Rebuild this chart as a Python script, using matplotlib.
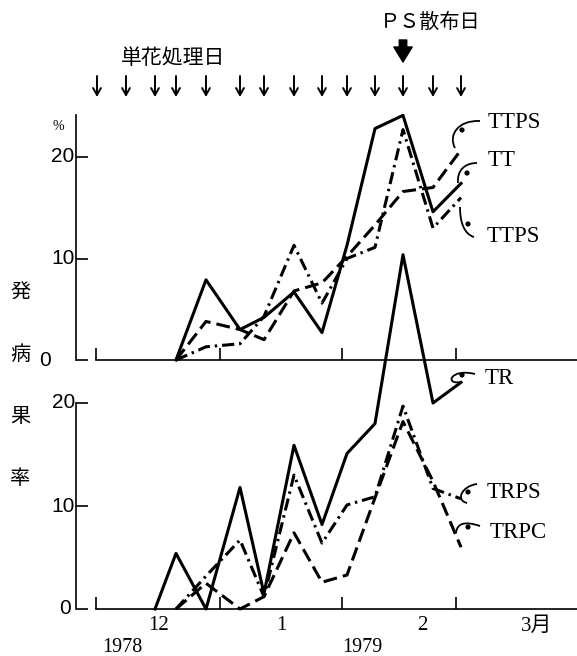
import numpy as np
import matplotlib
matplotlib.use('Agg')
import matplotlib.pyplot as plt
from matplotlib import transforms
from matplotlib.path import Path
from matplotlib.patches import PathPatch, Circle

nan = np.nan

# ---------------- data ----------------
sample_days = [0.25, 7.5, 14.75, 20, 27.5, 36, 42, 49.5, 56.5, 62.75, 69.75, 76.75, 84.25, 91.25]
ps_day = 76.75

# upper panel (%)
tt = [nan, nan, nan, 0, 7.9, 3.0, 4.2, 6.7, 2.7, 11.3, 22.8, 24.1, 14.6, 17.4]
ttps_upper = [nan, nan, nan, 0, 3.8, 3.0, 2.0, 6.8, 7.6, 10.2, 13.3, 16.6, 17.0, 20.7]
ttps_lower = [nan, nan, nan, 0, 1.3, 1.6, 4.3, 11.3, 5.6, 10.0, 11.1, 22.7, 13.0, 16.0]

# lower panel (%)
tr = [nan, nan, 0, 5.4, 0, 11.8, 1.5, 15.9, 8.2, 15.1, 18.0, 34.4, 20.0, 22.0]
trps = [nan, nan, nan, 0, 3.2, 6.7, 1.2, 13.0, 6.4, 10.1, 10.9, 19.7, 11.7, 10.7]
trpc = [nan, nan, nan, 0, 2.5, 0, 1.2, 7.4, 2.6, 3.3, 10.8, 18.2, 12.4, 6.0]

month_ticks = [0, 31, 61.5, 90]
month_labels = ['12', '1', '2', '3月']
month_label_days = [15.75, 46.25, 81.5, 110.25]
year_labels = ['1978', '1979']
year_label_days = [6.5, 66.5]
yticks = [0, 10, 20]

# ---------------- figure ----------------
W, H = 577, 656
fig = plt.figure(figsize=(W / 100, H / 100), dpi=100)
fig.patch.set_facecolor('white')


def fx(px):
    return px / W


def fy(py):
    return 1 - py / H


PX = transforms.Affine2D().scale(1 / W, -1 / H).translate(0, 1) + fig.transFigure

ax_top = fig.add_axes([fx(76), fy(360), fx(577) - fx(76), (360 - 115) / H])
ax_bot = fig.add_axes([fx(76), fy(609), fx(577) - fx(76), (609 - 403) / H])

SERIF = ['Liberation Serif', 'DejaVu Serif']
NARROW = ['Liberation Sans Narrow', 'Liberation Sans', 'DejaVu Sans']
CJK = ['Noto Sans CJK JP', 'DejaVu Sans']
MIX = ['Liberation Serif', 'Noto Sans CJK JP']

solid = dict(color='k', lw=2.2, linestyle='-', clip_on=False)
dashed = dict(color='k', lw=2.2, linestyle=(0, (4.5, 2.0)), clip_on=False)
dashdot = dict(color='k', lw=2.2, linestyle=(0, (4.0, 1.6, 0.8, 1.6)), clip_on=False)

for ax in (ax_top, ax_bot):
    ax.set_xlim(-5, 120.25)
    ax.patch.set_alpha(0)
    for s in ('top', 'right'):
        ax.spines[s].set_visible(False)
    ax.spines['left'].set_linewidth(1.2)
    ax.spines['bottom'].set_linewidth(1.2)
    ax.spines['bottom'].set_bounds(0, 120.25)
    ax.set_xticks(month_ticks)
    ax.set_yticks(yticks)
    ax.tick_params(axis='both', direction='in', length=8.5, width=1.2,
                   labelbottom=False, labelleft=False)

ax_top.set_ylim(0, (360 - 115) / 10.15)
ax_bot.set_ylim(0, 20)

ax_top.plot(sample_days, tt, **solid)
ax_top.plot(sample_days, ttps_upper, **dashed)
ax_top.plot(sample_days, ttps_lower, **dashdot)

ax_bot.plot(sample_days, tr, **solid)
ax_bot.plot(sample_days, trps, **dashdot)
ax_bot.plot(sample_days, trpc, **dashed)

# y tick labels
for py, lab, x in [(157, '20', 63), (259, '10', 63), (360, '0', 45),
                   (403, '20', 64), (507, '10', 63), (609, '0', 65)]:
    fig.text(fx(x), fy(py), lab, family=NARROW, fontsize=15, ha='center', va='center')

fig.text(fx(58), fy(127), '%', family=SERIF, fontsize=10, ha='center', va='center')

# x labels (month / year)
blend_b = transforms.blended_transform_factory(ax_bot.transData, fig.transFigure)
for d, lab in zip(month_label_days, month_labels):
    ax_bot.text(d, fy(626), lab, transform=blend_b, family=MIX, fontsize=15,
                ha='center', va='center')
for d, lab in zip(year_label_days, year_labels):
    ax_bot.text(d, fy(647), lab, transform=blend_b, family=SERIF, fontsize=14.5,
                ha='center', va='center')

# sampling-date arrows
blend_t = transforms.blended_transform_factory(ax_top.transData, fig.transFigure)
for d in sample_days:
    ax_top.annotate('', xy=(d, fy(97)), xytext=(d, fy(76)), xycoords=blend_t,
                    textcoords=blend_t, annotation_clip=False,
                    arrowprops=dict(arrowstyle='->,head_length=0.5,head_width=0.28',
                                    lw=1.4, color='k', shrinkA=0, shrinkB=0))
ax_top.annotate('', xy=(ps_day, fy(62)), xytext=(ps_day, fy(40)), xycoords=blend_t,
                textcoords=blend_t, annotation_clip=False,
                arrowprops=dict(arrowstyle='simple,head_length=0.9,head_width=1.1,tail_width=0.45',
                                fc='k', ec='k', mutation_scale=12, shrinkA=0, shrinkB=0))

fig.text(fx(173), fy(58), '単花処理日', family=CJK, fontsize=15, ha='center', va='center')
fig.text(fx(430), fy(22), 'ＰＳ散布日', family=CJK, fontsize=14.5, ha='center', va='center')

for ch, py in zip('発病果率', [293, 355, 416, 478]):
    fig.text(fx(20), fy(py), ch, family=CJK, fontsize=14.5, ha='center', va='center')

# series labels
for lab, x, py in [('TTPS', 488, 123), ('TT', 488, 160), ('TTPS', 487, 237),
                   ('TR', 485, 378), ('TRPS', 487, 492), ('TRPC', 490, 533)]:
    fig.text(fx(x), fy(py), lab, family=SERIF, fontsize=16.5, ha='left', va='center')

# hook-shaped leaders
hooks = [
    [(455, 148), (448, 135), (458, 120), (480, 121)],
    [(458, 183), (457, 170), (465, 163), (477, 163)],
    [(460, 207), (460, 222), (464, 234), (474, 237)],
    [(460, 382), (445, 385), (450, 368), (475, 374)],
    [(467, 503), (455, 500), (462, 486), (477, 484)],
    [(456, 533), (457, 523), (465, 521), (480, 526)],
]
dots = [(462, 130), (467, 173), (468, 224), (462, 375), (468, 492), (468, 527)]
for pts in hooks:
    path = Path(pts, [Path.MOVETO, Path.CURVE4, Path.CURVE4, Path.CURVE4])
    fig.patches.append(PathPatch(path, transform=PX, fill=False, lw=1.3, ec='k'))
for (x, y) in dots:
    fig.patches.append(Circle((x, y), 2.6, transform=PX, fc='k', ec='none'))

fig.savefig('out.png', dpi=100)
